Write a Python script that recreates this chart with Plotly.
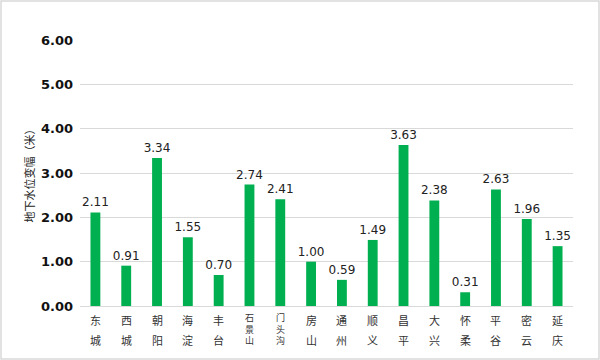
import plotly.graph_objects as go

categories = ["东城", "西城", "朝阳", "海淀", "丰台", "石景山", "门头沟", "房山",
              "通州", "顺义", "昌平", "大兴", "怀柔", "平谷", "密云", "延庆"]
values = [2.11, 0.91, 3.34, 1.55, 0.70, 2.74, 2.41, 1.00,
          0.59, 1.49, 3.63, 2.38, 0.31, 2.63, 1.96, 1.35]
y_title = "地下水位变幅（米）"

W, H = 600, 360
ML, MR, MT, MB = 80, 27, 40, 54
PW, PH = W - ML - MR, H - MT - MB

fig = go.Figure()
fig.add_trace(go.Bar(
    x=categories, y=values,
    marker=dict(color="#00b050", line=dict(width=0)),
    text=[f"{v:.2f}" for v in values],
    textposition="outside",
    constraintext="none",
    textfont=dict(family="DejaVu Sans", size=12, color="#222"),
    cliponaxis=False,
))

annotations = []
for c in categories:
    n = len(c)
    if n <= 2:
        for i, ch in enumerate(c):
            annotations.append(dict(
                x=c, y=0, xref="x", yref="y", text=ch, showarrow=False,
                yanchor="middle", xanchor="center", yshift=-(14 + i * 20),
                font=dict(family="Noto Sans CJK SC", size=11, color="#333"),
            ))
    else:
        annotations.append(dict(
            x=c, y=0, xref="x", yref="y", text="<br>".join(c), showarrow=False,
            yanchor="middle", xanchor="center", yshift=-23, borderpad=0,
            font=dict(family="Noto Sans CJK SC", size=9, color="#333"),
        ))

fig.update_layout(
    width=W, height=H,
    margin=dict(l=ML, r=MR, t=MT, b=MB),
    paper_bgcolor="white", plot_bgcolor="white",
    bargap=0.68,
    showlegend=False,
    annotations=annotations,
    xaxis=dict(showticklabels=False, showgrid=False, showline=True,
               linecolor="#d9d9d9", linewidth=1, ticks="", fixedrange=True),
    yaxis=dict(range=[0, 6], dtick=1, tickformat=".2f",
               tickfont=dict(family="DejaVu Sans", size=13, color="#111", weight="bold"),
               showgrid=True, gridcolor="#d9d9d9", gridwidth=1,
               zeroline=False, showline=False, ticks="", ticklabelstandoff=6,
               title=dict(text=y_title, font=dict(family="Noto Sans CJK SC", size=11, color="#222"),
                          standoff=4)),
    shapes=[dict(type="rect", xref="paper", yref="paper",
                 x0=-(ML - 1) / PW, x1=1 + (MR - 1) / PW,
                 y0=-(MB - 1) / PH, y1=1 + (MT - 1) / PH,
                 line=dict(color="#d9d9d9", width=1.5), layer="below")],
)

fig.write_html("out.html", config={"displayModeBar": False},
               post_script="document.body.style.margin='0';")
